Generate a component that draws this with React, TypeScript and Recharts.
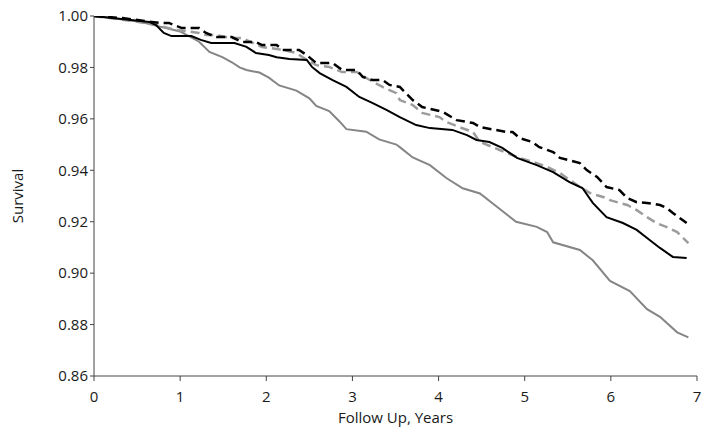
import { Line, LineChart, XAxis, YAxis } from "recharts";

// Survival curves: [follow-up years, survival]
const blackSolid: [number, number][] = [
  [0, 1.0], [0.64, 0.9977], [0.72, 0.9965], [0.81, 0.9934], [0.9, 0.9922], [1.13, 0.9922],
  [1.24, 0.9907], [1.36, 0.9895], [1.63, 0.9895], [1.77, 0.988], [1.88, 0.9856], [2.03, 0.9848],
  [2.12, 0.984], [2.27, 0.9833], [2.47, 0.9829], [2.53, 0.9802], [2.62, 0.9778], [2.77, 0.9751],
  [2.93, 0.9724], [3.08, 0.9685], [3.23, 0.9662], [3.4, 0.9634], [3.55, 0.9607], [3.74, 0.9576],
  [3.9, 0.9564], [4.16, 0.9557], [4.33, 0.9537], [4.44, 0.9518], [4.59, 0.951], [4.74, 0.9487],
  [4.91, 0.9448], [5.14, 0.942], [5.33, 0.9393], [5.52, 0.9354], [5.67, 0.9331], [5.79, 0.9273],
  [5.95, 0.9218], [6.14, 0.9195], [6.3, 0.9168], [6.45, 0.9129], [6.57, 0.9098], [6.72, 0.9063],
  [6.88, 0.9059],
];

const blackDashed: [number, number][] = [
  [0, 1.0], [0.33, 0.9992], [0.67, 0.9977], [0.76, 0.9973], [0.87, 0.9973], [1.02, 0.9953],
  [1.22, 0.9953], [1.3, 0.9934], [1.42, 0.9918], [1.6, 0.9918], [1.72, 0.9899], [1.88, 0.9899],
  [1.95, 0.9887], [2.12, 0.9887], [2.19, 0.9868], [2.38, 0.9868], [2.47, 0.9848], [2.58, 0.9817],
  [2.77, 0.9817], [2.88, 0.979], [3.05, 0.979], [3.12, 0.9763], [3.23, 0.9751], [3.35, 0.9751],
  [3.43, 0.9732], [3.55, 0.9724], [3.7, 0.9673], [3.81, 0.9646], [4.05, 0.9627], [4.21, 0.9595],
  [4.4, 0.9584], [4.48, 0.9568], [4.79, 0.9549], [4.86, 0.9549], [4.94, 0.9525], [5.09, 0.951],
  [5.17, 0.949], [5.33, 0.9471], [5.41, 0.9448], [5.64, 0.9428], [5.72, 0.9401], [5.84, 0.9374],
  [5.95, 0.9335], [6.1, 0.9323], [6.19, 0.9292], [6.3, 0.9276], [6.42, 0.9273], [6.57, 0.9265],
  [6.65, 0.9253], [6.72, 0.9234], [6.88, 0.9195],
];

const grayDashed: [number, number][] = [
  [0, 1.0], [0.52, 0.9977], [0.72, 0.9965], [0.95, 0.9946], [1.22, 0.9934], [1.3, 0.9926],
  [1.42, 0.9926], [1.6, 0.9914], [1.72, 0.9914], [1.95, 0.9879], [2.12, 0.9872], [2.19, 0.9868],
  [2.35, 0.9856], [2.42, 0.984], [2.58, 0.9809], [2.73, 0.9802], [2.88, 0.9782], [3.05, 0.9782],
  [3.2, 0.9751], [3.35, 0.9724], [3.51, 0.97], [3.55, 0.9673], [3.7, 0.9654], [3.81, 0.9623],
  [4.01, 0.9607], [4.09, 0.9588], [4.24, 0.9568], [4.4, 0.9549], [4.48, 0.951], [4.71, 0.9479],
  [4.94, 0.9448], [5.14, 0.9428], [5.26, 0.9413], [5.41, 0.9389], [5.49, 0.937], [5.64, 0.9335],
  [5.76, 0.9311], [5.91, 0.9296], [5.99, 0.9284], [6.19, 0.9265], [6.3, 0.9245], [6.42, 0.9218],
  [6.53, 0.9195], [6.65, 0.9179], [6.77, 0.916], [6.9, 0.9117],
];

const graySolid: [number, number][] = [
  [0, 1.0], [0.5, 0.998], [1.0, 0.994], [1.22, 0.99], [1.34, 0.986], [1.49, 0.984],
  [1.6, 0.982], [1.69, 0.98], [1.77, 0.979], [1.92, 0.978], [2.03, 0.976], [2.15, 0.973],
  [2.35, 0.971], [2.5, 0.968], [2.58, 0.965], [2.73, 0.963], [2.85, 0.959], [2.93, 0.956],
  [3.16, 0.955], [3.31, 0.952], [3.51, 0.95], [3.55, 0.949], [3.7, 0.945], [3.9, 0.942],
  [4.09, 0.937], [4.28, 0.933], [4.48, 0.931], [4.67, 0.926], [4.9, 0.92], [5.14, 0.918],
  [5.26, 0.916], [5.33, 0.912], [5.64, 0.909], [5.79, 0.905], [5.99, 0.897], [6.22, 0.893],
  [6.42, 0.886], [6.57, 0.883], [6.77, 0.877], [6.9, 0.875],
];

const xTicks = [0, 1, 2, 3, 4, 5, 6, 7];
const yTicks = [0.86, 0.88, 0.9, 0.92, 0.94, 0.96, 0.98, 1.0];

const toPoints = (pts: [number, number][]) => pts.map(([t, s]) => ({ t, s }));

const series = [
  { key: "graySolid", data: toPoints(graySolid), color: "#858585", dash: undefined, width: 2 },
  { key: "grayDashed", data: toPoints(grayDashed), color: "#9c9c9c", dash: "9 5", width: 2.5 },
  { key: "blackSolid", data: toPoints(blackSolid), color: "#000000", dash: undefined, width: 2 },
  { key: "blackDashed", data: toPoints(blackDashed), color: "#000000", dash: "9 5", width: 2.5 },
];

const textStyle = { fontSize: 15, fill: "#1a1a1a" };

export default function App() {
  return (
    <div style={{ position: "absolute", left: 0, top: 0, background: "#fff" }}>
      <LineChart
        width={704}
        height={438}
        margin={{ top: 16, right: 7, bottom: 0, left: 0 }}
        style={{ fontFamily: "'Open Sans', sans-serif" }}
      >
        <XAxis
          type="number"
          dataKey="t"
          domain={[0, 7]}
          ticks={xTicks}
          allowDuplicatedCategory={false}
          tick={textStyle}
          tickSize={5}
          tickMargin={10}
          stroke="#444"
          height={62}
          label={{ value: "Follow Up, Years", position: "insideBottom", offset: 15, style: textStyle }}
        />
        <YAxis
          type="number"
          domain={[0.86, 1.0]}
          ticks={yTicks}
          tickFormatter={(v: number) => v.toFixed(2)}
          tick={textStyle}
          tickSize={4}
          tickMargin={2}
          stroke="#444"
          width={94}
          allowDataOverflow
          label={{ value: "Survival", angle: -90, position: "insideLeft", offset: 18, style: { ...textStyle, textAnchor: "middle" } }}
        />
        {series.map((s) => (
          <Line
            key={s.key}
            data={s.data}
            dataKey="s"
            type="linear"
            stroke={s.color}
            strokeWidth={s.width}
            strokeDasharray={s.dash}
            dot={false}
            activeDot={false}
            isAnimationActive={false}
          />
        ))}
      </LineChart>
    </div>
  );
}
